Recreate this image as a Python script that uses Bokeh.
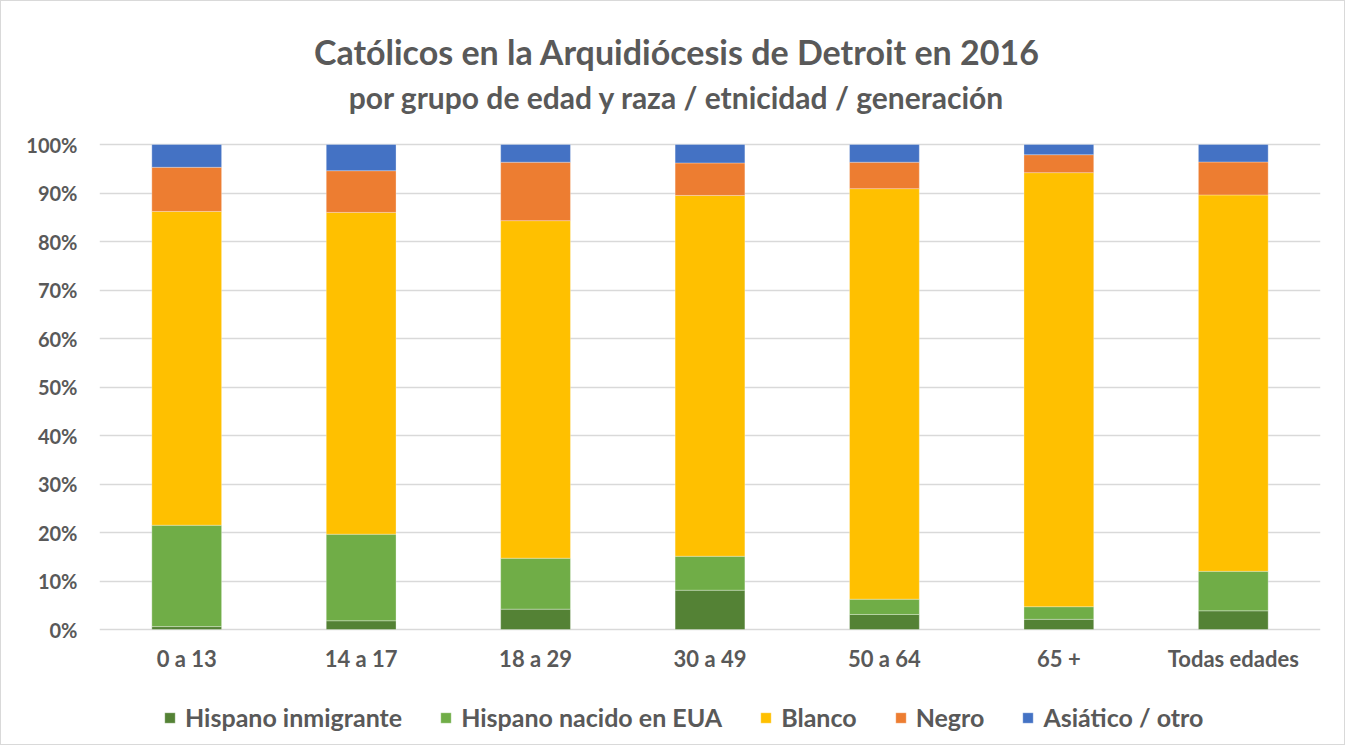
from bokeh.plotting import figure
from bokeh.models import ColumnDataSource, FactorRange, Range1d, Label, Legend, NumeralTickFormatter, FixedTicker
from bokeh.core.properties import value
from bokeh.embed import file_html
from bokeh.resources import INLINE

categories = ["0 a 13", "14 a 17", "18 a 29", "30 a 49", "50 a 64", "65 +", "Todas edades"]
series = ["Hispano inmigrante", "Hispano nacido en EUA", "Blanco", "Negro", "Asiático / otro"]
hisp_inmigrante = [0.006, 0.018, 0.042, 0.081, 0.031, 0.021, 0.0385]
hisp_nacido = [0.209, 0.1785, 0.105, 0.070, 0.0315, 0.026, 0.0815]
blanco = [0.647, 0.6635, 0.696, 0.744, 0.8465, 0.895, 0.776]
negro = [0.091, 0.086, 0.1205, 0.067, 0.0545, 0.037, 0.068]
asiatico = [0.047, 0.054, 0.0365, 0.038, 0.0365, 0.021, 0.036]
colors = ["#548235", "#70AD47", "#FFC000", "#ED7D31", "#4472C4"]
yticks = [0, 0.1, 0.2, 0.3, 0.4, 0.5, 0.6, 0.7, 0.8, 0.9, 1.0]
title_text = "Católicos en la Arquidiócesis de Detroit en 2016"
subtitle_text = "por grupo de edad y raza / etnicidad / generación"

keys = ["s0", "s1", "s2", "s3", "s4"]
data = dict(cat=categories, s0=hisp_inmigrante, s1=hisp_nacido, s2=blanco, s3=negro, s4=asiatico)
src = ColumnDataSource(data)

TXT = "#595959"
FONT = "Lato"

W, H = 1345, 745
LEFT, RIGHT = 98, 1319        # frame left/right in figure pixels
TOP, ZERO = 143, 628          # 100% and 0% lines, in figure pixels
unit = ZERO - TOP             # pixels per 100%
y_start = -(H - ZERO) / unit
y_end = ZERO / unit

p = figure(x_range=FactorRange(*categories), y_range=Range1d(y_start, y_end),
           width=W, height=H, output_backend="svg", toolbar_location=None,
           min_border_left=LEFT, min_border_right=W - RIGHT, min_border_top=0, min_border_bottom=0)
p.styles = {"border": "1px solid #D9D9D9"}

renderers = p.vbar_stack(keys, x="cat", width=0.4, source=src, color=colors,
                         line_color="white", line_width=0.6, line_alpha=0.5)

# category labels under the bars
lab_src = ColumnDataSource(dict(cat=categories, y=[-0.059] * len(categories)))
p.text(x="cat", y="y", text="cat", source=lab_src, text_align="center", text_baseline="middle",
       text_font=value(FONT), text_font_style="bold", text_color=TXT, text_font_size="22px")

# titles, centred on the whole chart (synthetic categorical coordinate)
cat_w = (RIGHT - LEFT) / len(categories)
x_mid = (W / 2 + 3 - LEFT) / cat_w
p.add_layout(Label(x=x_mid, y=(ZERO - 50) / unit, text=title_text, text_align="center",
                   text_baseline="middle", text_font=FONT, text_font_style="bold",
                   text_font_size="34px", text_color=TXT))
p.add_layout(Label(x=x_mid, y=(ZERO - 95) / unit, text=subtitle_text, text_align="center",
                   text_baseline="middle", text_font=FONT, text_font_style="bold",
                   text_font_size="30px", text_color=TXT))

p.xaxis.visible = False
p.xgrid.grid_line_color = None
p.ygrid.grid_line_color = "#D9D9D9"
p.ygrid.grid_line_width = 1.5
p.ygrid.ticker = FixedTicker(ticks=yticks)
p.yaxis.ticker = FixedTicker(ticks=yticks)
p.yaxis.formatter = NumeralTickFormatter(format="0%")
p.yaxis.axis_line_color = None
p.yaxis.major_tick_line_color = None
p.yaxis.minor_tick_line_color = None
p.yaxis.major_label_text_font = FONT
p.yaxis.major_label_text_font_style = "bold"
p.yaxis.major_label_text_color = TXT
p.yaxis.major_label_text_font_size = "20px"
p.yaxis.major_label_standoff = 16
p.outline_line_color = None

legend = Legend(items=[(s, [r]) for s, r in zip(series, renderers)], orientation="horizontal",
                location=(64, 14), label_text_font=FONT, label_text_font_style="bold",
                label_text_color=TXT, label_text_font_size="25px", glyph_width=13, glyph_height=13,
                spacing=37, label_standoff=9, border_line_color=None, background_fill_alpha=0,
                padding=0, margin=0)
p.add_layout(legend, "center")

open("out.html", "w").write(file_html(p, INLINE))
